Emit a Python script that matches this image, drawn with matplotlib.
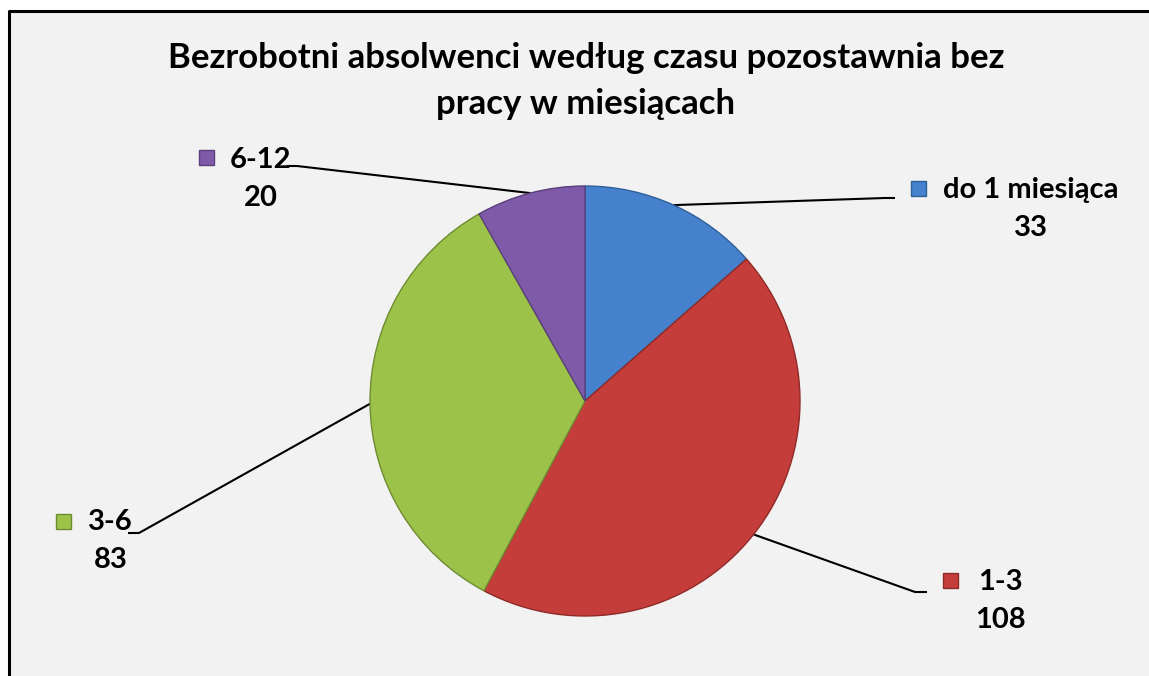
import matplotlib
matplotlib.use('Agg')
import matplotlib.pyplot as plt
import numpy as np
from matplotlib.patches import Rectangle
from matplotlib.lines import Line2D

# ---- data ----
categories = ['do 1 miesiąca', '1-3', '3-6', '6-12']
values = [33, 108, 83, 20]
colors = ['#4581CC', '#C53D3A', '#9DC24A', '#7E5AA8']
edge_colors = ['#2F5F99', '#8E2B28', '#6F8C32', '#5A3F7C']
title = 'Bezrobotni absolwenci według czasu pozostawnia bez\npracy w miesiącach'

# ---- layout (pixel coords, y from top) ----
W, H = 1149, 676
center_px = (585, 401)
radius_px = 215
elbows = [(885, 198), (915, 592), (139, 533), (297, 166)]
ends = [(895, 198), (927, 592), (128, 533), (287, 166)]
marker_pos = [(918, 188), (950, 580), (63, 521), (206, 157)]
name_left = [(943, 190), (978, 582), (88, 522), (230, 160)]

FONT = ['Lato', 'DejaVu Sans']
plt.rcParams['font.family'] = FONT

fig = plt.figure(figsize=(W / 100, H / 100), dpi=100)
fig.patch.set_facecolor('white')

# background panel (gray) with top and left border, drawn at figure level
fig.add_artist(Rectangle((9 / W, -0.1), 1.2, (H - 11) / H + 0.1,
                         transform=fig.transFigure, facecolor='#F2F2F2',
                         edgecolor='none', zorder=0))
fig.add_artist(Line2D([9 / W, 9 / W, 1.2], [-0.1, (H - 11) / H, (H - 11) / H],
                      transform=fig.transFigure, color='black', lw=2.2,
                      zorder=0.5))

ax = fig.add_axes([0, 0, 1, 1])
ax.patch.set_visible(False)


def P(x, y):
    return x, H - y


cx, cy = P(*center_px)
wedges, _ = ax.pie(values, colors=colors, startangle=90, counterclock=False,
                   center=(cx, cy), radius=radius_px, frame=False,
                   wedgeprops=dict(linewidth=1.0))
for w, ec in zip(wedges, edge_colors):
    w.set_edgecolor(ec)
    w.set_zorder(2)

ax.set_aspect('auto')
ax.set_xlim(0, W)
ax.set_ylim(0, H)
ax.axis('off')

ax.text(*P(586, 81), title, ha='center', va='center', fontsize=25,
        fontweight='bold', linespacing=1.52, color='black', zorder=5)

for i, (w, name, val) in enumerate(zip(wedges, categories, values)):
    ang = np.deg2rad((w.theta1 + w.theta2) / 2)
    sx = cx + radius_px * np.cos(ang)
    sy = cy + radius_px * np.sin(ang)
    ex, ey = P(*elbows[i])
    fx, fy = P(*ends[i])
    ax.plot([sx, ex, fx], [sy, ey, fy], color='black', lw=1.5, zorder=1,
            solid_capstyle='butt')
    mx, my = P(*marker_pos[i])
    s = 15
    ax.add_patch(Rectangle((mx - s / 2, my - s / 2), s, s, facecolor=colors[i],
                           edgecolor=edge_colors[i], linewidth=1, zorder=4))
    t = ax.text(*P(*name_left[i]), name, ha='left', va='center', fontsize=21,
                fontweight='bold', zorder=5)
    ax.annotate(str(val), xy=(0.5, 0.5), xycoords=t, xytext=(0, -38),
                textcoords='offset pixels', ha='center', va='center',
                fontsize=21, fontweight='bold', zorder=5)

ax.set_xlim(0, W)
ax.set_ylim(0, H)
fig.savefig('out.png', dpi=100, facecolor='white')
